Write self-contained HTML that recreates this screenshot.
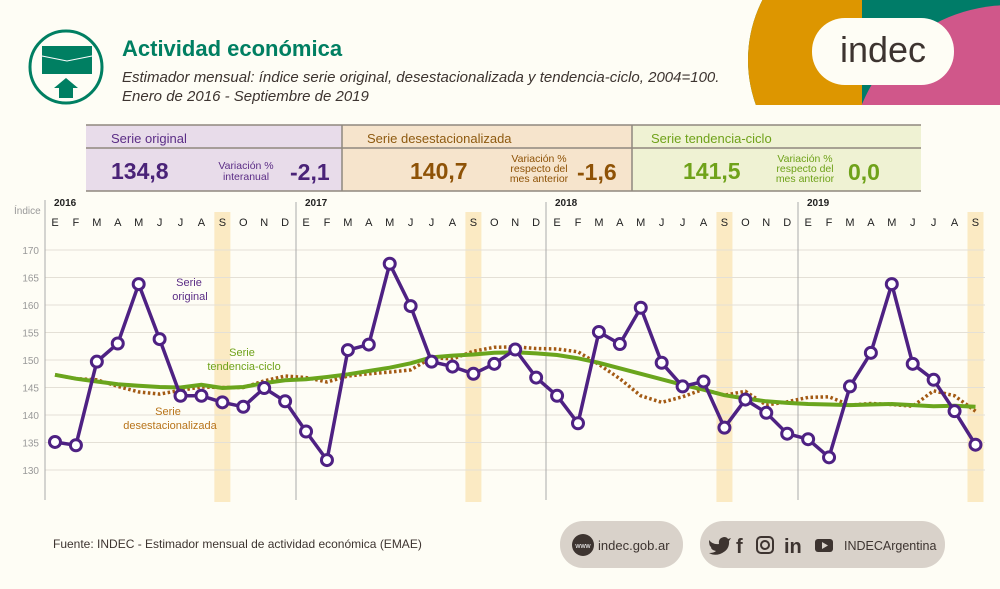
<!DOCTYPE html>
<html><head><meta charset="utf-8"><style>
body{margin:0;width:1000px;height:589px;background:#fefdf5;font-family:"Liberation Sans",sans-serif;position:relative;overflow:hidden}
.a{position:absolute}
</style></head><body>
<svg class="a" style="left:0;top:0" width="1000" height="589">
<defs><clipPath id="c"><rect x="740" y="0" width="260" height="105"/></clipPath><clipPath id="c2"><rect x="740" y="0" width="122" height="105"/></clipPath></defs>
<g clip-path="url(#c)">
<circle cx="880" cy="60" r="132" fill="#007c68"/>
<rect x="862" y="0" width="140" height="105" fill="#007c68"/>
<circle cx="1010" cy="165" r="160" fill="#d0578a"/>
<circle cx="880" cy="60" r="132" fill="#dd9600" clip-path="url(#c2)"/>
</g>
<rect x="812" y="18" width="142" height="67" rx="33" fill="#fefdf5"/>
<text x="883" y="62" text-anchor="middle" font-size="36" fill="#3d3430" font-family="Liberation Sans">indec</text>
<circle cx="66" cy="67" r="36" fill="none" stroke="#007f62" stroke-width="3"/>
<rect x="42" y="46" width="50" height="28" fill="#007f62"/>
<path d="M42 56 L67 61 L92 56" stroke="#fff" fill="none" stroke-width="1"/>
<path d="M59 98 V88 H54 L66 78 L78 88 H73 V98Z" fill="#007f62"/>
<rect x="86" y="125" width="256" height="66" fill="#e8dcea"/>
<rect x="342" y="125" width="290" height="66" fill="#f6e4cc"/>
<rect x="632" y="125" width="289" height="66" fill="#eff2d3"/>
<g stroke="#8f887e" stroke-width="1.5"><line x1="86" y1="125" x2="921" y2="125"/><line x1="86" y1="148" x2="921" y2="148"/><line x1="86" y1="191" x2="921" y2="191"/><line x1="342" y1="125" x2="342" y2="191"/><line x1="632" y1="125" x2="632" y2="191"/></g>
<g font-size="13"><text x="111" y="143" fill="#5b2d86">Serie original</text><text x="367" y="143" fill="#8e5a10">Serie desestacionalizada</text><text x="651" y="143" fill="#6fa21a">Serie tendencia-ciclo</text></g>
<g font-weight="bold" font-size="23"><text x="111" y="179" fill="#4a2378">134,8</text><text x="290" y="180" fill="#4a2378">-2,1</text>
<text x="410" y="179" fill="#8e5206">140,7</text><text x="577" y="180" fill="#8e5206">-1,6</text>
<text x="683" y="179" fill="#6fa21a">141,5</text><text x="848" y="180" fill="#6fa21a">0,0</text></g>
<g font-size="10.5" text-anchor="middle"><text x="246" y="169" fill="#5b2d86">Variación %</text><text x="246" y="180" fill="#5b2d86">interanual</text>
<text x="539" y="162" fill="#8e5206">Variación %</text><text x="539" y="172" fill="#8e5206">respecto del</text><text x="539" y="182" fill="#8e5206">mes anterior</text>
<text x="805" y="162" fill="#6fa21a">Variación %</text><text x="805" y="172" fill="#6fa21a">respecto del</text><text x="805" y="182" fill="#6fa21a">mes anterior</text></g>
<g id="chart"></g>
<rect x="560" y="521" width="123" height="47" rx="23" fill="#d9d2ca"/>
<rect x="700" y="521" width="245" height="47" rx="23" fill="#d9d2ca"/>
<circle cx="583" cy="545" r="11" fill="#3d3430"/><text x="583" y="548" font-size="7" fill="#fff" text-anchor="middle">www</text>
<text x="598" y="550" font-size="13" fill="#3d3430">indec.gob.ar</text>
<path d="M709 540 Q713 545 719 544 Q718 538 724 537 Q727 537 728 539 L731 538 L729 541 Q730 550 720 554 Q714 556 709 553 Q714 553 716 551 Q711 550 711 547 Q709 546 709 540Z" fill="#3d3430"/>
<text x="736" y="553" font-size="20" font-weight="bold" fill="#3d3430">f</text>
<rect x="757" y="537" width="16" height="16" rx="4" fill="none" stroke="#3d3430" stroke-width="2"/><circle cx="765" cy="545" r="4" fill="none" stroke="#3d3430" stroke-width="2"/>
<text x="784" y="553" font-size="20" font-weight="bold" fill="#3d3430">in</text>
<rect x="815" y="539" width="18" height="13" rx="3" fill="#3d3430"/><path d="M822 542 L828 545.5 L822 549Z" fill="#d9d2ca"/>
<text x="844" y="550" font-size="12.5" fill="#3d3430">INDECArgentina</text>
</svg>
<div class="a" style="left:122px;top:36px;font-size:22px;font-weight:bold;color:#007f62">Actividad económica</div>
<div class="a" style="left:122px;top:68px;font-size:15px;font-style:italic;color:#3d3430;line-height:19px">Estimador mensual: índice serie original, desestacionalizada y tendencia-ciclo, 2004=100.<br>Enero de 2016 - Septiembre de 2019</div>
<div class="a" style="left:53px;top:537px;font-size:12px;color:#3d3430">Fuente: INDEC - Estimador mensual de actividad económica (EMAE)</div>
<script>
var X=i=>55+20.92*i,Y=v=>250+(170-v)*5.5,s='';
var o=[135.1,134.5,149.7,153,163.8,153.8,143.5,143.5,142.3,141.5,144.9,142.5,137,131.8,151.8,152.8,167.5,159.8,149.7,148.8,147.5,149.3,151.9,146.8,143.5,138.5,155.1,152.9,159.5,149.5,145.2,146.1,137.7,142.8,140.4,136.6,135.6,132.3,145.2,151.3,163.8,149.3,146.4,140.7,134.6];
var t=[147.3,146.6,146.1,145.6,145.3,145.1,145.0,145.5,144.9,145.1,145.8,146.3,146.5,146.9,147.4,148.0,148.6,149.4,150.5,150.8,151.0,151.3,151.4,151.2,150.9,150.3,149.5,148.5,147.5,146.5,145.5,144.6,143.6,143.0,142.5,142.2,142.0,141.9,141.8,141.9,142.0,141.8,141.6,141.7,141.5];
var d=[147.3,146.6,146.4,145.2,144.2,143.8,144.5,145.1,145.0,145.0,146.2,147.1,146.8,146.0,147.1,147.5,147.8,148.2,150.4,150.2,151.6,152.3,152.4,152.1,152.0,151.5,149.2,146.6,143.5,142.3,143.3,144.7,143.6,144.3,141.8,142.4,143.2,143.3,141.8,142.1,141.9,141.6,144.4,143.5,140.7];
for(var y=0;y<4;y++){var sx=X(8+12*y);s+=`<rect x="${sx-8}" y="212" width="16" height="290" fill="#fbeac3"/>`;}
for(var v=130;v<=170;v+=5){s+=`<line x1="45" x2="985" y1="${Y(v)}" y2="${Y(v)}" stroke="#e4e0d6"/><text x="39" y="${Y(v)+4}" font-size="10" fill="#999" text-anchor="end">${v}</text>`;}
s+=`<line x1="45" x2="45" y1="200" y2="500" stroke="#aaa"/><text x="14" y="214" font-size="10" fill="#999">Índice</text>`;
var M='EFMAMJJASOND',yrs=[2016,2017,2018,2019],bx=[45,296,546,798];
for(var y=0;y<4;y++){if(y)s+=`<line x1="${bx[y]}" x2="${bx[y]}" y1="202" y2="500" stroke="#aaa"/>`;s+=`<text x="${bx[y]+9}" y="206" font-size="10" font-weight="bold" fill="#222">${yrs[y]}</text>`;}
for(var i=0;i<45;i++)s+=`<text x="${X(i)}" y="226" font-size="11" fill="#222" text-anchor="middle">${M[i%12]}</text>`;
var pl=a=>a.map((v,i)=>X(i).toFixed(1)+','+Y(v).toFixed(1)).join(' ');
s+=`<polyline points="${pl(d)}" fill="none" stroke="#a35a14" stroke-width="3.5" stroke-dasharray="2.5 2.5"/>`;
s+=`<polyline points="${pl(t)}" fill="none" stroke="#6aa51d" stroke-width="4"/>`;
s+=`<polyline points="${pl(o)}" fill="none" stroke="#4e2183" stroke-width="3.5" stroke-linejoin="round"/>`;
o.forEach((v,i)=>s+=`<circle cx="${X(i)}" cy="${Y(v)}" r="5.5" fill="#fff" stroke="#4e2183" stroke-width="3"/>`);
s+=`<text x="189" y="286" font-size="11" fill="#5b2d86" text-anchor="middle">Serie</text><text x="190" y="300" font-size="11" fill="#5b2d86" text-anchor="middle">original</text>`;
s+=`<text x="242" y="356" font-size="11" fill="#6fa21a" text-anchor="middle">Serie</text><text x="244" y="370" font-size="11" fill="#6fa21a" text-anchor="middle">tendencia-ciclo</text>`;
s+=`<text x="168" y="415" font-size="11" fill="#b8741a" text-anchor="middle">Serie</text><text x="170" y="429" font-size="11" fill="#b8741a" text-anchor="middle">desestacionalizada</text>`;
document.getElementById('chart').innerHTML=s;
</script>
</body></html>
